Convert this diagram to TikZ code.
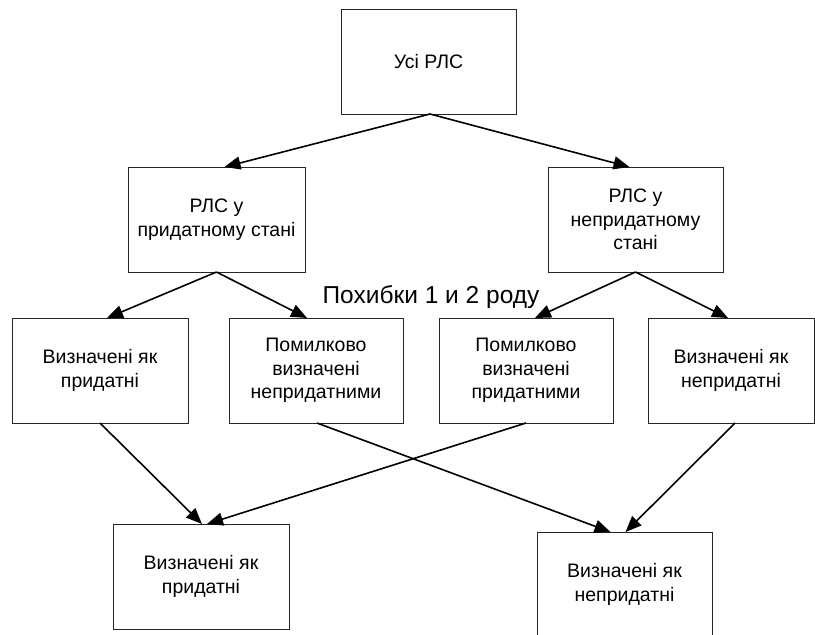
\documentclass[tikz,border=0pt]{standalone}
\usepackage{fontspec}
\setmainfont{Liberation Sans}
\usetikzlibrary{arrows.meta}
\begin{document}
\begin{tikzpicture}[x=1pt,y=-1pt,
  box/.style={draw=black!85, line width=0.9pt, inner sep=0pt, outer sep=0pt,
    minimum height=105pt, align=center,
    font=\fontsize{19.5}{23.5}\selectfont},
  arr/.style={draw=black, line width=1.6pt,
    -{Triangle[length=16pt,width=13pt]}}]
\useasboundingbox (0,0) rectangle (815,635);
\clip (0,0) rectangle (815,635);
\fill[white] (0,0) rectangle (815,635);

\node[box, minimum width=175pt] (top) at (428.5,61.5) {Усі РЛС};
\node[box, minimum width=177pt] (ml) at (216.5,219.5) {РЛС у\\придатному стані};
\node[box, minimum width=175pt] (mr) at (635.5,219.5) {РЛС у\\непридатному\\стані};

\node[box, minimum width=176pt] (b1) at (100,370.5) {Визначені як\\придатні};
\node[box, minimum width=174pt] (b2) at (316,370.5) {Помилково\\визначені\\непридатними};
\node[box, minimum width=174pt] (b3) at (526,370.5) {Помилково\\визначені\\придатними};
\node[box, minimum width=166pt] (b4) at (731,370.5) {Визначені як\\непридатні};

\node[box, minimum width=176pt] (c1) at (201,576.5) {Визначені як\\придатні};
\node[box, minimum width=175pt] (c2) at (624.5,584.5) {Визначені як\\непридатні};

\node[anchor=base, inner sep=0pt, font=\fontsize{24.5}{28}\selectfont] (lbl) at (431,303) {Похибки 1 и 2 роду};

\draw[arr] ([xshift=1.5pt]top.south) -- ([xshift=8pt]ml.north);
\draw[arr] ([xshift=1.5pt]top.south) -- ([xshift=-6pt]mr.north);

\draw[arr] (ml.south) -- ([xshift=7pt]b1.north);
\draw[arr] (ml.south) -- ([xshift=-9pt]b2.north);
\draw[arr] (mr.south) -- ([xshift=9pt]b3.north);
\draw[arr] (mr.south) -- ([xshift=-3pt]b4.north);

\draw[arr] (b1.south) -- ([xshift=1pt]c1.north);
\draw[arr] (b3.south) -- ([xshift=6pt]c1.north);
\draw[arr] ([xshift=1pt]b2.south) -- ([xshift=-14pt]c2.north);
\draw[arr] ([xshift=4pt]b4.south) -- ([xshift=1pt]c2.north);
\end{tikzpicture}
\end{document}
